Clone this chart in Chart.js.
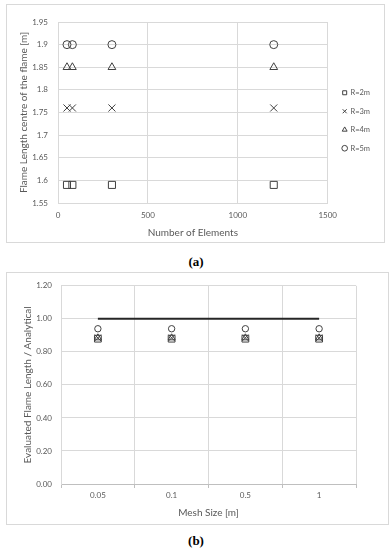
<!DOCTYPE html>
<html><head><meta charset="utf-8">
<script src="https://cdn.jsdelivr.net/npm/chart.js@4.4.1/dist/chart.umd.min.js"></script>
<style>
body{margin:0;background:#fff;width:392px;height:550px;position:relative;overflow:hidden;font-family:Lato}
.box{position:absolute;border:1px solid #d9d9d9;box-sizing:border-box}
canvas{position:absolute}
.cap{position:absolute;width:392px;left:0;text-align:center;font:bold 13px 'Liberation Serif';color:#000}
</style></head><body>
<div class="box" style="left:6px;top:4px;width:379px;height:239px"></div>
<canvas id="a" width="379" height="239" style="left:6px;top:4px"></canvas>
<div class="cap" style="top:254px">(a)</div>
<div class="box" style="left:6px;top:272px;width:383px;height:253px"></div>
<canvas id="b" width="383" height="253" style="left:6px;top:272px"></canvas>
<div class="cap" style="top:533px">(b)</div>
<script>
// ---- data (a) ----
const elements = [50, 80, 300, 1200];
const flameR2 = [1.59, 1.59, 1.59, 1.59];
const flameR3 = [1.76, 1.76, 1.76, 1.76];
const flameR4 = [1.85, 1.85, 1.85, 1.85];
const flameR5 = [1.90, 1.90, 1.90, 1.90];
const seriesNames = ['R=2m', 'R=3m', 'R=4m', 'R=5m'];
// ---- data (b) ----
const meshSizes = ['0.05', '0.1', '0.5', '1'];
const ratioR2 = [0.88, 0.88, 0.88, 0.88];
const ratioR3 = [0.885, 0.885, 0.885, 0.885];
const ratioR4 = [0.885, 0.885, 0.885, 0.885];
const ratioR5 = [0.94, 0.94, 0.94, 0.94];
const analytical = [1, 1, 1, 1];

Chart.defaults.font.family = 'Lato';
Chart.defaults.color = '#595959';
Chart.defaults.animation = false;

const GRID = '#d9d9d9';
const MK = '#404040';
const styles = [
  {pointStyle: 'rect', r: 5, rb: 4.8},
  {pointStyle: 'crossRot', r: 5, rb: 4.5},
  {pointStyle: 'triangle', r: 4.5, rb: 4},
  {pointStyle: 'circle', r: 4, rb: 3.2}
];
const flameSeries = [flameR2, flameR3, flameR4, flameR5];
const ratioSeries = [ratioR2, ratioR3, ratioR4, ratioR5];

const legendShift = {
  id: 'legendShift',
  beforeDraw(chart) {
    const L = chart.legend;
    if (L && !L._shifted) {
      L.left += 4; L.right += 4;
      L.top -= 12; L.bottom -= 12;
      L._shifted = true;
    }
  }
};

new Chart(document.getElementById('a'), {
  type: 'scatter',
  data: {
    datasets: flameSeries.map((ys, k) => ({
      label: seriesNames[k],
      data: elements.map((x, i) => ({x: x, y: ys[i]})),
      pointStyle: styles[k].pointStyle,
      pointRadius: styles[k].r,
      borderColor: MK,
      backgroundColor: 'rgba(0,0,0,0)',
      pointBorderWidth: 1
    }))
  },
  plugins: [legendShift],
  options: {
    responsive: false,
    layout: {padding: {top: 18, right: 9, left: 0, bottom: 0}},
    plugins: {
      tooltip: {enabled: false},
      legend: {
        position: 'right',
        labels: {usePointStyle: true, boxWidth: 4, boxHeight: 4, padding: 11,
                 font: {size: 7.5}, color: '#595959'}
      }
    },
    scales: {
      x: {
        type: 'linear', min: 0, max: 1500,
        ticks: {stepSize: 500, padding: 8, font: {size: 8}, callback: v => String(v)},
        grid: {color: GRID, drawTicks: false},
        border: {color: GRID},
        title: {display: true, text: 'Number of Elements', font: {size: 10}, padding: {top: 4, bottom: 4}},
        afterFit: s => { s.height = 40; }
      },
      y: {
        min: 1.55, max: 1.95,
        ticks: {stepSize: 0.05, padding: 10, font: {size: 8},
                callback: v => String(Number(v.toFixed(2)))},
        grid: {color: GRID, drawTicks: false},
        border: {color: GRID},
        title: {display: true, text: 'Flame Length centre of the flame [m]', font: {size: 10}, padding: {top: 12, bottom: 0}},
        afterFit: s => { s.width = 52; }
      }
    }
  }
});

new Chart(document.getElementById('b'), {
  type: 'line',
  data: {
    labels: meshSizes,
    datasets: ratioSeries.map((ys, k) => ({
      label: seriesNames[k],
      data: ys,
      showLine: false,
      pointStyle: styles[k].pointStyle,
      pointRadius: styles[k].rb,
      borderColor: MK,
      backgroundColor: 'rgba(0,0,0,0)',
      pointBorderWidth: 1
    })).concat([{
      label: 'Analytical',
      data: analytical,
      borderColor: '#262626',
      borderWidth: 2,
      pointRadius: 0,
      fill: false
    }])
  },
  options: {
    responsive: false,
    layout: {padding: {top: 8, right: 33, left: 0, bottom: 0}},
    plugins: {tooltip: {enabled: false}, legend: {display: false}},
    scales: {
      x: {
        type: 'category', offset: true,
        ticks: {padding: 3, font: {size: 8}},
        grid: {color: GRID, offset: true, tickLength: 4, tickColor: '#bfbfbf'},
        border: {color: '#bfbfbf'},
        title: {display: true, text: 'Mesh Size [m]', font: {size: 10}, padding: {top: 2, bottom: 6}},
        afterFit: s => { s.height = 41; }
      },
      y: {
        min: 0, max: 1.2,
        ticks: {stepSize: 0.2, padding: 9, font: {size: 8}, callback: v => v.toFixed(2)},
        grid: {color: GRID, drawTicks: false},
        border: {color: GRID},
        title: {display: true, text: 'Evaluated Flame Length / Analytical', font: {size: 10}, padding: {top: 16, bottom: 0}},
        afterFit: s => { s.width = 55; }
      }
    }
  }
});
</script>
</body></html>
